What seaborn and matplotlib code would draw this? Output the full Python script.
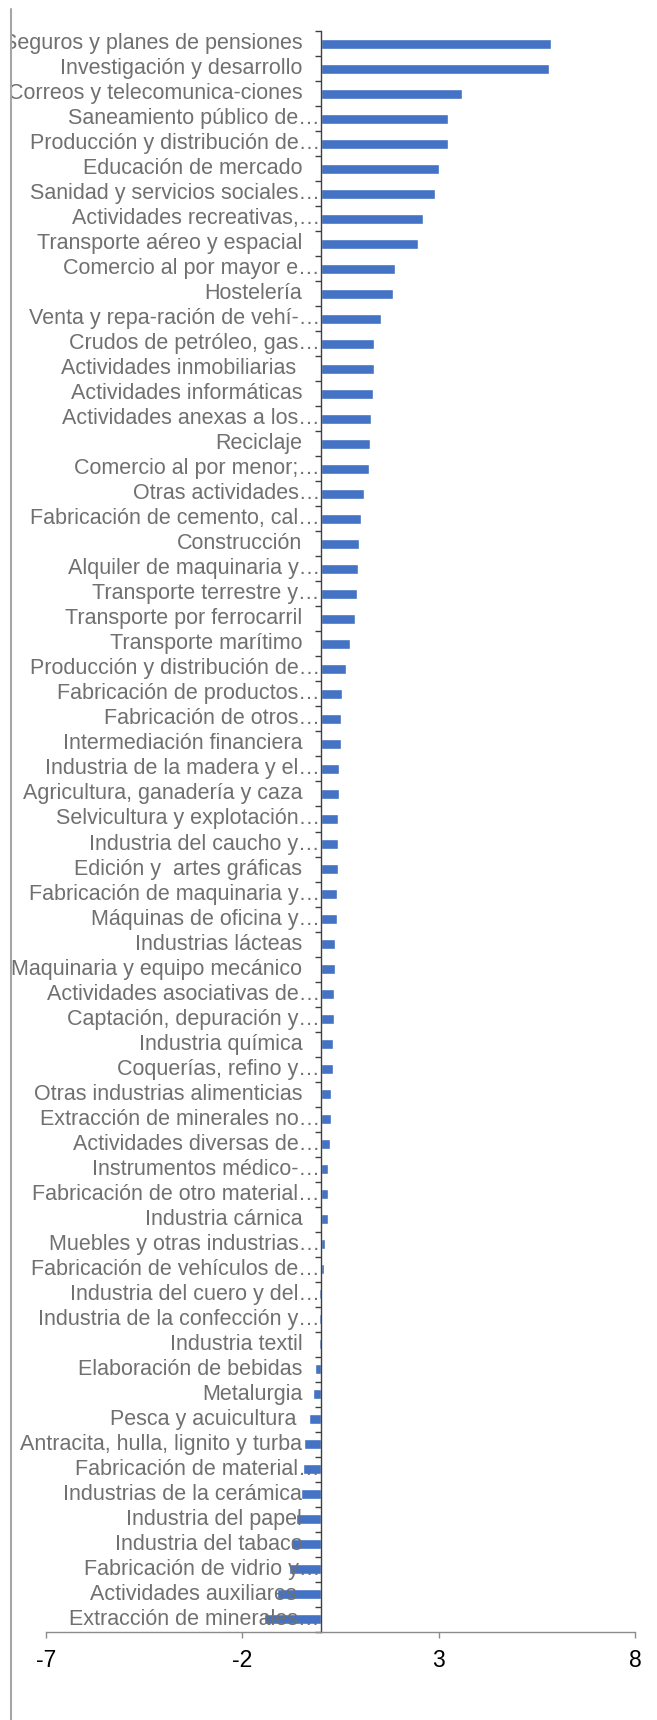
import matplotlib
matplotlib.use("Agg")
import matplotlib.pyplot as plt
import matplotlib.transforms as mtransforms
from matplotlib.lines import Line2D
import seaborn as sns

sectores = [
    "Seguros y planes de pensiones",
    "Investigación y desarrollo",
    "Correos y telecomunica-ciones",
    "Saneamiento público de…",
    "Producción y distribución de…",
    "Educación de mercado",
    "Sanidad y servicios sociales…",
    "Actividades recreativas,…",
    "Transporte aéreo y espacial",
    "Comercio al por mayor e…",
    "Hostelería",
    "Venta y repa-ración de vehí-…",
    "Crudos de petróleo, gas…",
    "Actividades inmobiliarias ",
    "Actividades informáticas",
    "Actividades anexas a los…",
    "Reciclaje",
    "Comercio al por menor;…",
    "Otras actividades…",
    "Fabricación de cemento, cal…",
    "Construcción",
    "Alquiler de maquinaria y…",
    "Transporte terrestre y…",
    "Transporte por ferrocarril",
    "Transporte marítimo",
    "Producción y distribución de…",
    "Fabricación de productos…",
    "Fabricación de otros…",
    "Intermediación financiera",
    "Industria de la madera y el…",
    "Agricultura, ganadería y caza",
    "Selvicultura y explotación…",
    "Industria del caucho y…",
    "Edición y  artes gráficas",
    "Fabricación de maquinaria y…",
    "Máquinas de oficina y…",
    "Industrias lácteas",
    "Maquinaria y equipo mecánico",
    "Actividades asociativas de…",
    "Captación, depuración y…",
    "Industria química",
    "Coquerías, refino y…",
    "Otras industrias alimenticias",
    "Extracción de minerales no…",
    "Actividades diversas de…",
    "Instrumentos médico-…",
    "Fabricación de otro material…",
    "Industria cárnica",
    "Muebles y otras industrias…",
    "Fabricación de vehículos de…",
    "Industria del cuero y del…",
    "Industria de la confección y…",
    "Industria textil",
    "Elaboración de bebidas",
    "Metalurgia",
    "Pesca y acuicultura ",
    "Antracita, hulla, lignito y turba",
    "Fabricación de material…",
    "Industrias de la cerámica",
    "Industria del papel",
    "Industria del tabaco",
    "Fabricación de vidrio y…",
    "Actividades auxiliares ",
    "Extracción de minerales…",
]

valores = [
    5.87, 5.81, 3.60, 3.25, 3.23, 3.01, 2.90, 2.61, 2.48, 1.88,
    1.83, 1.52, 1.36, 1.35, 1.33, 1.27, 1.24, 1.22, 1.11, 1.03,
    0.96, 0.94, 0.91, 0.87, 0.73, 0.65, 0.54, 0.51, 0.50, 0.47,
    0.45, 0.44, 0.44, 0.44, 0.41, 0.41, 0.36, 0.35, 0.34, 0.33,
    0.32, 0.30, 0.25, 0.25, 0.23, 0.18, 0.17, 0.17, 0.10, 0.07,
    -0.05, -0.05, -0.06, -0.14, -0.19, -0.30, -0.43, -0.46, -0.51, -0.64,
    -0.75, -0.80, -1.12, -1.45,
]

x_ticks = [-7, -2, 3, 8]

sns.set_style("white")
plt.rcParams["font.family"] = ["Liberation Sans", "DejaVu Sans"]

W, H, DPI = 657, 1720, 100
FS = 15.5
fig = plt.figure(figsize=(W / DPI, H / DPI), dpi=DPI)
ax = fig.add_axes([46 / W, 1 - 1632 / H, (635 - 46) / W, (1632 - 31) / H])

sns.barplot(x=valores, y=list(range(len(sectores))), orient="h",
            color="#4472C4", width=0.4, saturation=1, ax=ax, zorder=1)

ax.set_xlim(-7, 8)
ax.set_ylim(len(sectores) - 0.5, -0.5)
ax.set_xticks(x_ticks)
ax.set_xticklabels([str(t) for t in x_ticks], fontsize=16.5, color="black")
ax.tick_params(axis="x", which="major", bottom=True, direction="out",
               length=4, width=1, color="#8c8c8c", pad=8)

# category axis sits at zero, with tick marks between categories
ax.spines["left"].set_position(("data", 0))
ax.spines["left"].set_color("#404040")
ax.spines["left"].set_linewidth(1.0)
ax.spines["bottom"].set_color("#8c8c8c")
ax.spines["bottom"].set_linewidth(1.0)
ax.spines["top"].set_visible(False)
ax.spines["right"].set_visible(False)
ax.set_yticks([])
ax.set_yticks([i - 0.5 for i in range(len(sectores) + 1)], minor=True)
ax.tick_params(axis="y", which="minor", left=True, direction="out",
               length=4, width=1, color="#404040", labelleft=False)
ax.set_xlabel("")
ax.set_ylabel("")

# category names, right-aligned against the zero axis
clip = mtransforms.TransformedBbox(
    mtransforms.Bbox.from_extents(11 / W, 0, 1, 1), fig.transFigure)
blend = mtransforms.blended_transform_factory(ax.transData, ax.transData)
for i, name in enumerate(sectores):
    gap = 1 if name.endswith("…") else 18.5
    tr = blend + mtransforms.ScaledTranslation(-gap / DPI, 0, fig.dpi_scale_trans)
    t = ax.text(0, i, name, transform=tr, ha="right", va="center",
                fontsize=FS, color="#707070", zorder=5, clip_on=False)
    t.set_clip_box(clip)
    t.set_clip_on(True)

# chart-area border on the left
fig.add_artist(Line2D([11 / W, 11 / W], [0, 1 - 9 / H],
                      transform=fig.transFigure, color="#a6a6a6", lw=1.5))

fig.savefig("out.png", dpi=DPI)
